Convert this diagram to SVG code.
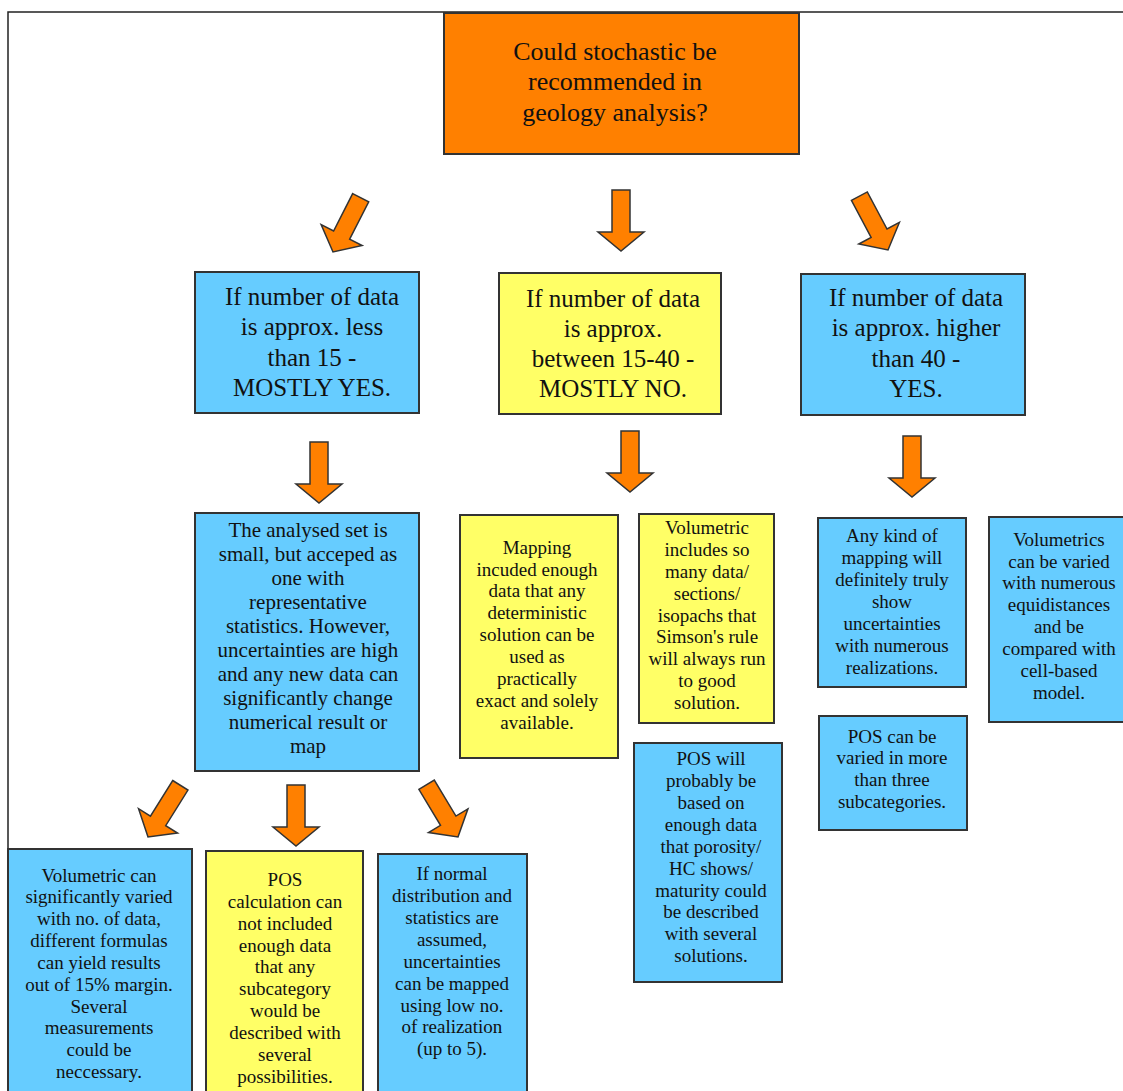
<svg xmlns="http://www.w3.org/2000/svg" width="1123" height="1091" viewBox="0 0 1123 1091">
<defs>
<style>
.box{stroke:#333;stroke-width:2}
.blue{fill:#66CCFF}
.yellow{fill:#FFFF66}
.orange{fill:#FF8000}
.arrow{fill:#FF8000;stroke:#333;stroke-width:1.5;stroke-linejoin:miter}
.t0{font-size:26px}
.t1{font-size:25px}
.t2{font-size:21px}
.t3{font-size:19px}
</style>
<path id="arr" d="M-9,-61 H9 V-19 H23 L0,0 L-23,-19 H-9 Z"/>
</defs>
<rect width="1123" height="1091" fill="#fff"/>
<rect x="8" y="12" width="1200" height="1200" fill="none" stroke="#222" stroke-width="1.5"/>

<g id="connectors">
<use href="#arr" class="arrow" transform="translate(333,252) rotate(27)"/>
<use href="#arr" class="arrow" transform="translate(621,251)"/>
<use href="#arr" class="arrow" transform="translate(888,250) rotate(-28)"/>
<use href="#arr" class="arrow" transform="translate(319,503)"/>
<use href="#arr" class="arrow" transform="translate(630,492)"/>
<use href="#arr" class="arrow" transform="translate(912,497)"/>
<use href="#arr" class="arrow" transform="translate(148,837) rotate(32)"/>
<use href="#arr" class="arrow" transform="translate(296,846)"/>
<use href="#arr" class="arrow" transform="translate(458,837) rotate(-31)"/>
</g>

<g font-family="'Liberation Serif', 'Times New Roman', serif" fill="#111" text-anchor="middle">

<g id="root">
<rect class="box orange" x="444" y="13" width="355" height="141"/>
<text class="t0"><tspan x="615" y="60">Could stochastic be</tspan><tspan x="615" y="90">recommended in</tspan><tspan x="615" y="121">geology analysis?</tspan></text>
</g>

<g id="less15">
<rect class="box blue" x="195" y="272" width="224" height="141"/>
<text class="t1"><tspan x="312" y="305">If number of data</tspan><tspan x="312" y="335">is approx. less</tspan><tspan x="312" y="366">than 15 -</tspan><tspan x="312" y="396">MOSTLY YES.</tspan></text>
</g>

<g id="between">
<rect class="box yellow" x="499" y="273" width="222" height="141"/>
<text class="t1"><tspan x="613" y="307">If number of data</tspan><tspan x="613" y="337">is approx.</tspan><tspan x="613" y="367">between 15-40 -</tspan><tspan x="613" y="397">MOSTLY NO.</tspan></text>
</g>

<g id="higher40">
<rect class="box blue" x="801" y="274" width="224" height="141"/>
<text class="t1"><tspan x="916" y="306">If number of data</tspan><tspan x="916" y="336">is approx. higher</tspan><tspan x="916" y="367">than 40 -</tspan><tspan x="916" y="397">YES.</tspan></text>
</g>

<g id="analysed">
<rect class="box blue" x="195" y="513" width="224" height="258"/>
<text class="t2"><tspan x="308" y="537">The analysed set is</tspan><tspan x="308" y="561">small, but acceped as</tspan><tspan x="308" y="585">one with</tspan><tspan x="308" y="609">representative</tspan><tspan x="308" y="633">statistics. However,</tspan><tspan x="308" y="657">uncertainties are high</tspan><tspan x="308" y="681">and any new data can</tspan><tspan x="308" y="705">significantly change</tspan><tspan x="308" y="729">numerical result or</tspan><tspan x="308" y="753">map</tspan></text>
</g>

<g id="mapping">
<rect class="box yellow" x="460" y="515" width="158" height="243"/>
<text class="t3"><tspan x="537" y="554">Mapping</tspan><tspan x="537" y="576">incuded enough</tspan><tspan x="537" y="597">data that any</tspan><tspan x="537" y="619">deterministic</tspan><tspan x="537" y="641">solution can be</tspan><tspan x="537" y="663">used as</tspan><tspan x="537" y="685">practically</tspan><tspan x="537" y="707">exact and solely</tspan><tspan x="537" y="729">available.</tspan></text>
</g>

<g id="volumetric-mid">
<rect class="box yellow" x="639" y="514" width="135" height="209"/>
<text class="t3"><tspan x="707" y="534">Volumetric</tspan><tspan x="707" y="556">includes so</tspan><tspan x="707" y="578">many data/</tspan><tspan x="707" y="600">sections/</tspan><tspan x="707" y="622">isopachs that</tspan><tspan x="707" y="643">Simson's rule</tspan><tspan x="707" y="665">will always run</tspan><tspan x="707" y="687">to good</tspan><tspan x="707" y="709">solution.</tspan></text>
</g>

<g id="pos-mid">
<rect class="box blue" x="634" y="743" width="148" height="239"/>
<text class="t3"><tspan x="711" y="765">POS will</tspan><tspan x="711" y="787">probably be</tspan><tspan x="711" y="809">based on</tspan><tspan x="711" y="831">enough data</tspan><tspan x="711" y="853">that porosity/</tspan><tspan x="711" y="875">HC shows/</tspan><tspan x="711" y="897">maturity could</tspan><tspan x="711" y="918">be described</tspan><tspan x="711" y="940">with several</tspan><tspan x="711" y="962">solutions.</tspan></text>
</g>

<g id="anykind">
<rect class="box blue" x="818" y="518" width="148" height="169"/>
<text class="t3"><tspan x="892" y="542">Any kind of</tspan><tspan x="892" y="564">mapping will</tspan><tspan x="892" y="586">definitely truly</tspan><tspan x="892" y="608">show</tspan><tspan x="892" y="630">uncertainties</tspan><tspan x="892" y="652">with numerous</tspan><tspan x="892" y="674">realizations.</tspan></text>
</g>

<g id="volumetrics-high">
<rect class="box blue" x="989" y="517" width="145" height="205"/>
<text class="t3"><tspan x="1059" y="546">Volumetrics</tspan><tspan x="1059" y="568">can be varied</tspan><tspan x="1059" y="589">with numerous</tspan><tspan x="1059" y="611">equidistances</tspan><tspan x="1059" y="633">and be</tspan><tspan x="1059" y="655">compared with</tspan><tspan x="1059" y="677">cell-based</tspan><tspan x="1059" y="699">model.</tspan></text>
</g>

<g id="pos-high">
<rect class="box blue" x="819" y="716" width="148" height="114"/>
<text class="t3"><tspan x="892" y="743">POS can be</tspan><tspan x="892" y="764">varied in more</tspan><tspan x="892" y="786">than three</tspan><tspan x="892" y="808">subcategories.</tspan></text>
</g>

<g id="volumetric-low">
<rect class="box blue" x="8" y="849" width="184" height="260"/>
<text class="t3"><tspan x="99" y="882">Volumetric can</tspan><tspan x="99" y="903">significantly varied</tspan><tspan x="99" y="925">with no. of data,</tspan><tspan x="99" y="947">different formulas</tspan><tspan x="99" y="969">can yield results</tspan><tspan x="99" y="991">out of 15% margin.</tspan><tspan x="99" y="1013">Several</tspan><tspan x="99" y="1034">measurements</tspan><tspan x="99" y="1056">could be</tspan><tspan x="99" y="1078">neccessary.</tspan></text>
</g>

<g id="pos-low">
<rect class="box yellow" x="206" y="851" width="157" height="260"/>
<text class="t3"><tspan x="285" y="886">POS</tspan><tspan x="285" y="908">calculation can</tspan><tspan x="285" y="930">not included</tspan><tspan x="285" y="952">enough data</tspan><tspan x="285" y="973">that any</tspan><tspan x="285" y="995">subcategory</tspan><tspan x="285" y="1017">would be</tspan><tspan x="285" y="1039">described with</tspan><tspan x="285" y="1061">several</tspan><tspan x="285" y="1083">possibilities.</tspan></text>
</g>

<g id="normal-low">
<rect class="box blue" x="378" y="854" width="149" height="260"/>
<text class="t3"><tspan x="452" y="880">If normal</tspan><tspan x="452" y="902">distribution and</tspan><tspan x="452" y="924">statistics are</tspan><tspan x="452" y="946">assumed,</tspan><tspan x="452" y="968">uncertainties</tspan><tspan x="452" y="990">can be mapped</tspan><tspan x="452" y="1012">using low no.</tspan><tspan x="452" y="1033">of realization</tspan><tspan x="452" y="1055">(up to 5).</tspan></text>
</g>

</g>
</svg>
